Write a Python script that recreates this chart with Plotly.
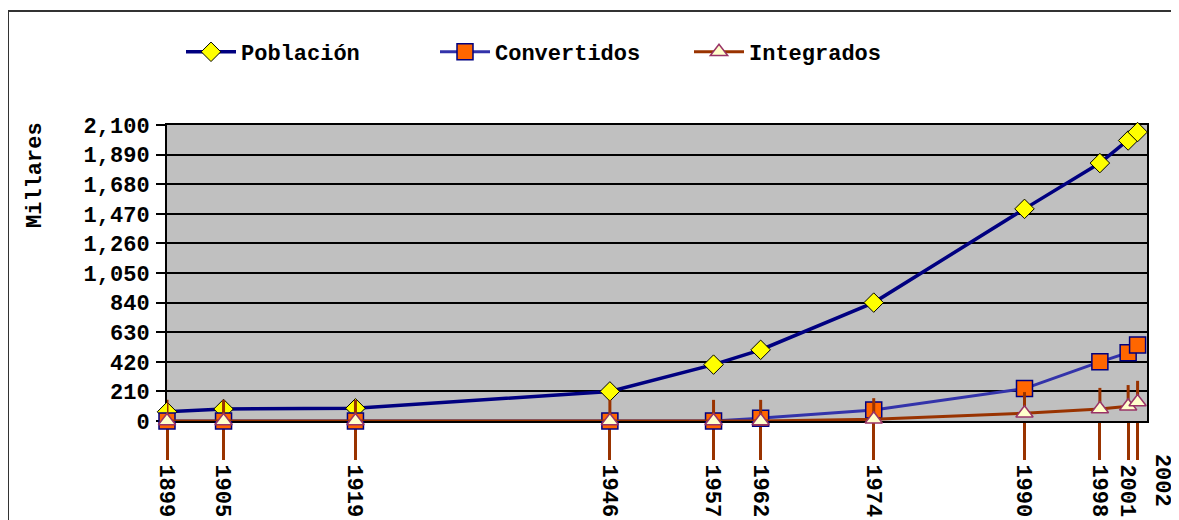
import plotly.graph_objects as go

years = [1899, 1905, 1919, 1946, 1957, 1962, 1974, 1990, 1998, 2001, 2002]
poblacion = [65, 85, 90, 210, 400, 505, 840, 1505, 1830, 1990, 2050]
convertidos = [0, 0, 0, 0, 0, 20, 78, 230, 420, 485, 540]
integrados = [0, 0, 0, 0, 0, 0, 12, 55, 85, 105, 135]
y_ticks = list(range(0, 2101, 210))
x_tick_text = [str(y) for y in years[:-1]] + [""]
last_label = str(years[-1])

FONT = "Liberation Mono"
OFF = 8  # default page margin of the html body
W, H = 1179, 520
L, T = 167 - OFF, 125 - OFF
PW, PH = 980, 296
R, B = W - L - PW, H - T - PH


def px(xp):
    return (xp - OFF - L) / PW


def py(yp):
    return (T + PH - (yp - OFF)) / PH


fig = go.Figure()
fig.add_trace(go.Scatter(
    x=years, y=poblacion, name="Población", mode="lines+markers",
    line=dict(color="#000080", width=3.5),
    marker=dict(symbol="diamond", size=15, color="#FFFF00",
                line=dict(color="#000000", width=1)),
    cliponaxis=False))
fig.add_trace(go.Scatter(
    x=years, y=convertidos, name="Convertidos", mode="lines+markers",
    line=dict(color="#3333AA", width=3),
    marker=dict(symbol="square", size=16, color="#FF6600",
                line=dict(color="#000080", width=1.5)),
    cliponaxis=False))
fig.add_trace(go.Scatter(
    x=years, y=integrados, name="Integrados", mode="lines+markers",
    line=dict(color="#993300", width=3),
    marker=dict(symbol="triangle-up", size=15, color="#FFFFCC",
                line=dict(color="#993366", width=1.5)),
    error_y=dict(type="constant", value=150, valueminus=0, symmetric=False,
                 color="#993300", thickness=3, width=0),
    cliponaxis=False))

tickfont = dict(family=FONT, size=22, color="#000000", weight="bold")

fig.update_layout(
    width=W, height=H,
    margin=dict(l=L, r=R, t=T, b=B, autoexpand=False),
    paper_bgcolor="#FFFFFF",
    plot_bgcolor="#C0C0C0",
    font=dict(family=FONT, size=22, color="#000000", weight="bold"),
    showlegend=True,
    legend=dict(orientation="h", x=px(181), xanchor="left",
                y=py(52), yanchor="middle",
                font=dict(family=FONT, size=22, color="#000000", weight="bold"),
                itemwidth=50, entrywidth=189, bgcolor="rgba(0,0,0,0)"),
    xaxis=dict(range=[1899, 2003], tickvals=years, ticktext=x_tick_text,
               tickangle=90, ticks="outside", ticklen=37, tickwidth=3,
               tickcolor="#993300", showgrid=False, zeroline=False,
               showline=True, mirror=True, linecolor="#000000", linewidth=2,
               layer="below traces", automargin=False, tickfont=tickfont),
    yaxis=dict(range=[0, 2100], tickvals=y_ticks, tickformat=",",
               ticks="outside", ticklen=9, tickwidth=2, tickcolor="#000000",
               showgrid=True, gridcolor="#000000", gridwidth=2,
               zeroline=False, showline=True, mirror=True,
               linecolor="#000000", linewidth=2, layer="below traces",
               ticklabelstandoff=2, automargin=False, tickfont=tickfont),
    annotations=[
        dict(text="Millares", xref="paper", yref="paper",
             x=px(35), y=py(175), textangle=-90, showarrow=False,
             xanchor="center", yanchor="middle",
             font=dict(family=FONT, size=22, color="#000000", weight="bold")),
        dict(text=last_label, xref="x", yref="paper",
             x=years[-1], y=py(452), xshift=24, textangle=90, showarrow=False,
             xanchor="center", yanchor="top", font=tickfont),
    ],
    shapes=[dict(type="rect", xref="paper", yref="paper",
                 x0=px(8), x1=px(1300), y0=py(700), y1=py(11),
                 line=dict(color="#333333", width=2), layer="below")],
)

fig.write_html("out.html")
